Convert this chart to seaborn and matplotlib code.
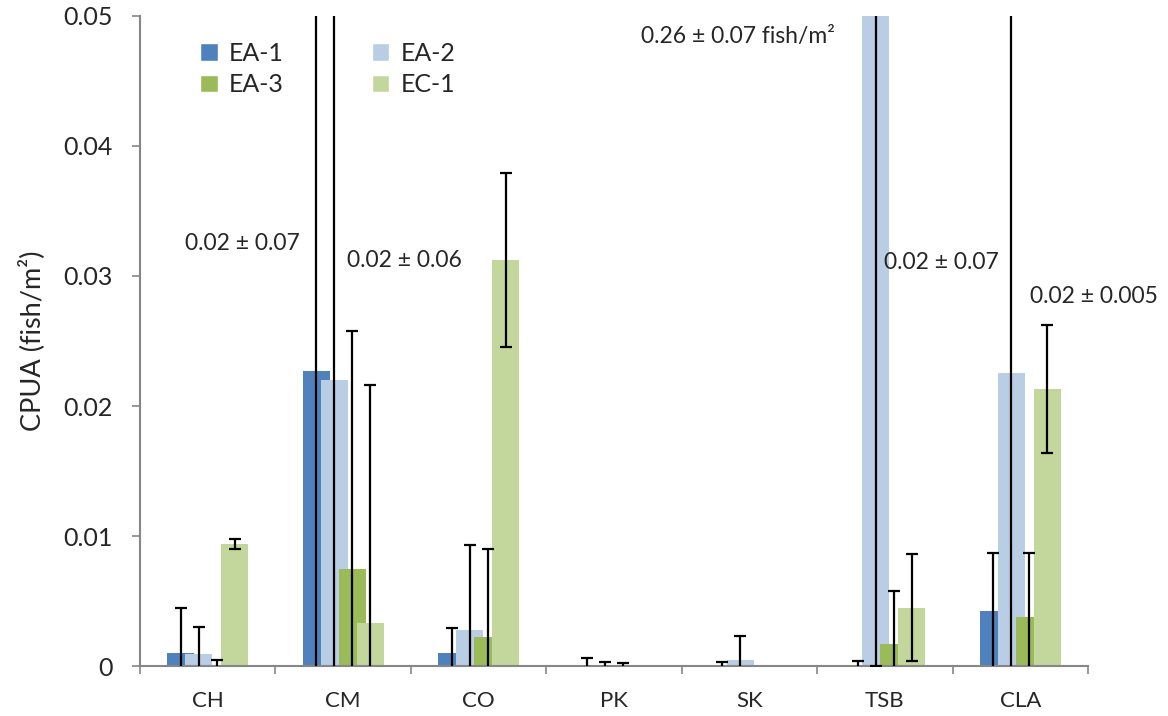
import numpy as np
import pandas as pd
import matplotlib
matplotlib.use('Agg')
import matplotlib.pyplot as plt
from matplotlib.patches import Patch
import seaborn as sns

sites = ['CH', 'CM', 'CO', 'PK', 'SK', 'TSB', 'CLA']
series = ['EA-1', 'EA-2', 'EA-3', 'EC-1']
colors = ['#4F81BD', '#B9CDE5', '#9BBB59', '#C3D69B']

ea1 = [0.0010, 0.0227, 0.0010, 0.0, 0.0, 0.0, 0.0042]
ea2 = [0.0009, 0.0220, 0.0028, 0.0, 0.0005, 0.26, 0.0225]
ea3 = [0.0, 0.0075, 0.0022, 0.0, 0.0, 0.0017, 0.0038]
ec1 = [0.0094, 0.0033, 0.0312, 0.0, 0.0, 0.0045, 0.0213]

ea1_err = [0.0035, 0.07, 0.0019, 0.0006, 0.0003, 0.0004, 0.0045]
ea2_err = [0.0021, 0.06, 0.0065, 0.0003, 0.0018, 0.26, 0.07]
ea3_err = [0.0005, 0.0183, 0.0068, 0.0002, 0.0, 0.0041, 0.0049]
ec1_err = [0.0004, 0.0183, 0.0067, 0.0, 0.0, 0.0041, 0.0049]

notes = ['0.02 ± 0.07', '0.02 ± 0.06', '0.26 ± 0.07 fish/m²', '0.02 ± 0.07', '0.02 ± 0.005']
note_x = [-0.17, 1.03, 3.20, 4.99, 6.07]
note_y = [0.0325, 0.0312, 0.0484, 0.0310, 0.0284]

values = [ea1, ea2, ea3, ec1]
errors = [ea1_err, ea2_err, ea3_err, ec1_err]

df = pd.DataFrame({
    'site': sites * 4,
    'series': np.repeat(series, len(sites)),
    'cpua': ea1 + ea2 + ea3 + ec1,
})

sns.set_style('white')
plt.rcParams['font.family'] = ['Lato', 'DejaVu Sans']

fig = plt.figure(figsize=(11.68, 7.16), dpi=100)
ax = fig.add_axes([0.1199, 0.0698, 0.8116, 0.9079])

sns.barplot(data=df, x='site', y='cpua', hue='series', palette=colors,
            width=0.5333, saturation=1, errorbar=None, legend=False, ax=ax)

# widen bars so they overlap like the original
for cont, err in zip(ax.containers, errors):
    xs, ys, es = [], [], []
    for p, e in zip(cont.patches, err):
        c = p.get_x() + p.get_width() / 2
        p.set_width(0.2)
        p.set_x(c - 0.1)
        p.set_linewidth(0)
        if e > 0:
            xs.append(c)
            ys.append(p.get_height())
            es.append(e)
    ax.errorbar(xs, ys, yerr=es, fmt='none', ecolor='black',
                elinewidth=1.6, capsize=4, capthick=1.6, zorder=5)

ax.set_ylim(0, 0.05)
ax.set_xlim(-0.5, len(sites) - 0.5)
ax.set_yticks([0, 0.01, 0.02, 0.03, 0.04, 0.05])
ax.set_yticklabels(['0', '0.01', '0.02', '0.03', '0.04', '0.05'])
ax.set_xticks(np.arange(-0.5, len(sites)), minor=True)
ax.tick_params(axis='x', which='major', length=0, pad=18, labelsize=16)
ax.tick_params(axis='x', which='minor', length=6, color='#868686', width=1.2, direction='out', bottom=True)
ax.tick_params(axis='y', length=6, color='#868686', width=1.2, direction='out', left=True, labelsize=18, pad=14)
ax.set_xlabel('')
ax.set_ylabel('CPUA (fish/m²)', fontsize=19.5, labelpad=13)

for s in ['top', 'right']:
    ax.spines[s].set_visible(False)
for s in ['left', 'bottom']:
    ax.spines[s].set_color('#868686')
    ax.spines[s].set_linewidth(1.5)

for t, x, y in zip(notes, note_x, note_y):
    ax.text(x, y, t, ha='left', va='center', fontsize=16.5)

order = [0, 2, 1, 3]
handles = [Patch(facecolor=colors[i], label=series[i]) for i in order]
ax.legend(handles=handles, ncol=2, loc='upper left', bbox_to_anchor=(0.04, 0.995),
          frameon=False, fontsize=18, handlelength=0.7, handleheight=0.7,
          handletextpad=0.45, columnspacing=3.5, labelspacing=0.35)

fig.savefig('out.png', dpi=100)
